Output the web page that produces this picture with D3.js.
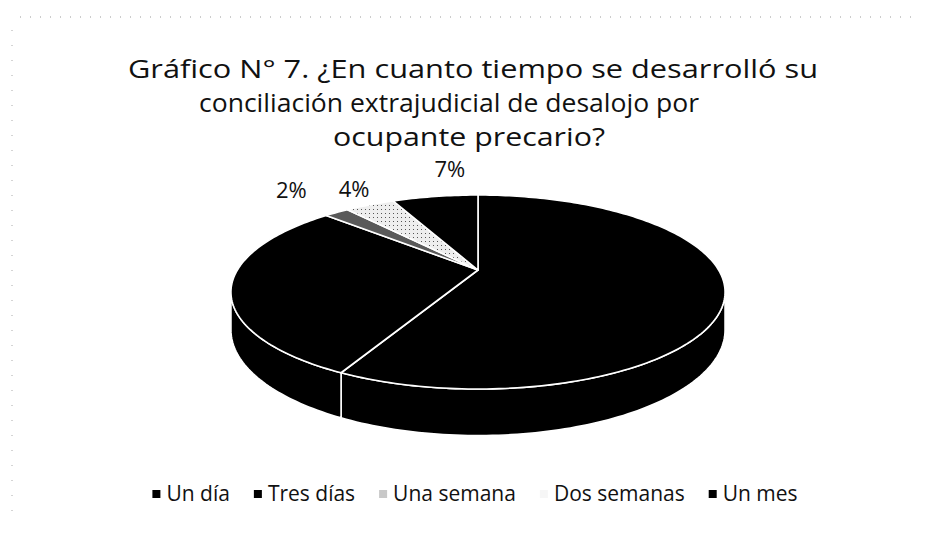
<!DOCTYPE html>
<html>
<head>
<meta charset="utf-8">
<script src="https://cdn.jsdelivr.net/npm/d3@7"></script>
<style>
  body { margin: 0; background: #fff; }
  svg { display: block; font-family: "Open Sans", "DejaVu Sans", sans-serif; }
</style>
</head>
<body>
<svg id="chart" width="925" height="533"></svg>
<script>
// data
const categories = ['Un día', 'Tres días', 'Una semana', 'Dos semanas', 'Un mes'];
const values = [57.5, 29.5, 2, 4, 7];
const colors = ['#000000', '#000000', '#5a5a5a', 'url(#dots)', '#000000'];
const legendColors = ['#000000', '#000000', '#c8c8c8', '#f6f6f6', '#000000'];
const titleLines = [
  'Gráfico N° 7. ¿En cuanto tiempo se desarrolló su',
  'conciliación extrajudicial de desalojo por',
  'ocupante precario?'
];

const svg = d3.select('#chart');

// speckled light fill for the scanned "Dos semanas" slice
const defs = svg.append('defs');
const pat = defs.append('pattern').attr('id', 'dots')
  .attr('width', 4).attr('height', 4).attr('patternUnits', 'userSpaceOnUse');
pat.append('rect').attr('width', 4).attr('height', 4).attr('fill', '#eeeeee');
pat.append('rect').attr('x', 1).attr('y', 1).attr('width', 1).attr('height', 1).attr('fill', '#555');

// faint dotted frame left over from the scan
svg.append('line').attr('x1', 20).attr('x2', 915).attr('y1', 17).attr('y2', 17)
  .attr('stroke', '#999').attr('stroke-width', 1).attr('stroke-dasharray', '1,9');
svg.append('line').attr('x1', 12).attr('x2', 12).attr('y1', 30).attr('y2', 520)
  .attr('stroke', '#aaa').attr('stroke-width', 1).attr('stroke-dasharray', '1,14');

// title
const titleWidths = [690, 500, 272];
const titleX = [473, 449, 469];
const titleY = [78, 112, 146];
titleLines.forEach((t, i) => {
  svg.append('text')
    .attr('x', titleX[i]).attr('y', titleY[i])
    .attr('text-anchor', 'middle')
    .attr('font-size', 25)
    .attr('fill', '#111')
    .attr('textLength', titleWidths[i])
    .attr('lengthAdjust', 'spacingAndGlyphs')
    .text(t);
});

// 3d pie with simple perspective
const CX = 478, CY = 270, A = 240.6, B = 92, K = 0.227, DEPTH = 36;
function proj(phi, r, drop) {
  const u = r * Math.sin(phi), v = -r * Math.cos(phi);
  const den = 1 - K * v;
  return [CX + A * u / den, CY + B * v / den + drop / den];
}
function arcPts(a0, a1, r, drop) {
  const n = Math.max(2, Math.ceil(Math.abs(a1 - a0) / 0.02));
  return d3.range(n + 1).map(i => proj(a0 + (a1 - a0) * i / n, r, drop));
}

const pie = d3.pie().sort(null).value(d => d);
const arcs = pie(values);
const line = d3.line();

// visible part of the outer wall (front half)
const visA = Math.acos(-K), visB = 2 * Math.PI - Math.acos(-K);
const sides = svg.append('g');
arcs.forEach((d, i) => {
  const s = Math.max(d.startAngle, visA), e = Math.min(d.endAngle, visB);
  if (e <= s) return;
  const pts = arcPts(s, e, 1, 0).concat(arcPts(e, s, 1, DEPTH));
  sides.append('path')
    .attr('d', line(pts) + 'Z')
    .attr('fill', colors[i])
    .attr('stroke', '#fff')
    .attr('stroke-width', 1.6)
    .attr('stroke-linejoin', 'round');
});

const tops = svg.append('g');
arcs.forEach((d, i) => {
  const pts = [[CX, CY]].concat(arcPts(d.startAngle, d.endAngle, 1, 0));
  tops.append('path')
    .attr('d', line(pts) + 'Z')
    .attr('fill', colors[i])
    .attr('stroke', '#fff')
    .attr('stroke-width', 1.6)
    .attr('stroke-linejoin', 'round');
});

// percentage labels (only the small slices show against the white page)
const nudge = [[0, 0], [0, 0], [-31, -9], [-5, -1], [19, -12]];
const total = d3.sum(values);
arcs.forEach((d, i) => {
  if (values[i] / total > 0.1) return;
  const p = proj((d.startAngle + d.endAngle) / 2, 1.12, 0);
  svg.append('text')
    .attr('x', p[0] + nudge[i][0]).attr('y', p[1] + nudge[i][1])
    .attr('text-anchor', 'middle')
    .attr('font-size', 22)
    .attr('fill', '#111')
    .text(Math.round(values[i] / total * 100) + '%');
});

// legend
const leg = svg.append('g');
let x = 0;
categories.forEach((c, i) => {
  const g = leg.append('g').attr('transform', `translate(${x},0)`);
  g.append('rect').attr('x', 0).attr('y', -4).attr('width', 8).attr('height', 8)
    .attr('fill', legendColors[i]);
  const t = g.append('text').attr('x', 14).attr('y', 7)
    .attr('font-size', 21).attr('fill', '#111').text(c);
  x += 14 + t.node().getComputedTextLength() + 24;
});
const legW = x - 24;
leg.attr('transform', `translate(${475 - legW / 2},494)`);
</script>
</body>
</html>
